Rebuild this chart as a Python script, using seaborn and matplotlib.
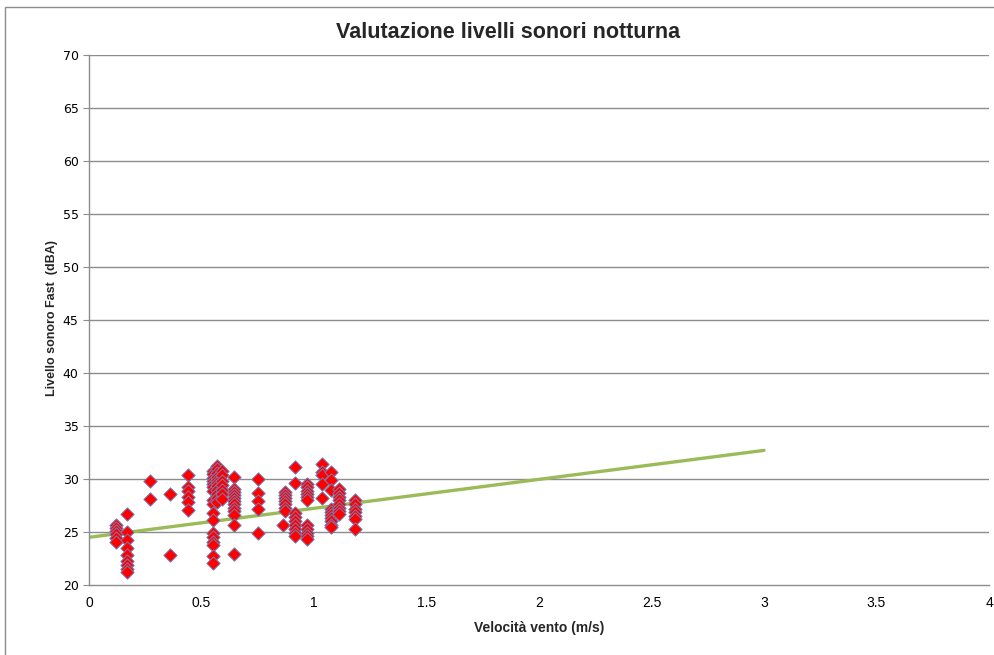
import numpy as np
import pandas as pd
import matplotlib
matplotlib.use("Agg")
import matplotlib.pyplot as plt
import seaborn as sns
from matplotlib.patches import Rectangle

sns.set_theme(style="white")
plt.rcParams['font.family'] = ['Liberation Sans', 'DejaVu Sans']

# ---- data ----
wind_groups = [0.12, 0.17, 0.27, 0.36, 0.44, 0.55, 0.57, 0.59, 0.645, 0.75,
               0.87, 0.86, 0.915, 0.967, 1.037, 1.075, 1.11, 1.183]
level_groups = [
    [25.7, 25.4, 25.1, 24.8, 24.4, 24.1],
    [26.7, 25.0, 24.2, 23.5, 22.8, 22.3, 21.9, 21.5, 21.2],
    [29.8, 28.1],
    [28.6, 22.8],
    [30.4, 29.2, 28.9, 28.3, 27.8, 27.1],
    [30.8, 30.5, 30.1, 29.8, 29.5, 29.2, 28.9, 28.0, 27.6, 26.8, 26.1,
     24.9, 24.5, 24.1, 23.8, 22.7, 22.1],
    [31.2, 30.9, 30.6, 30.2, 29.9, 29.6, 29.3, 29.0, 28.6, 28.2, 27.8],
    [30.8, 30.4, 29.8, 29.4, 29.0, 28.6, 28.1],
    [30.2, 29.1, 28.8, 28.5, 28.2, 27.9, 27.6, 27.3, 27.0, 26.6, 25.7, 22.9],
    [30.0, 28.7, 27.9, 27.2, 24.9],
    [28.8, 28.5, 28.2, 27.9, 27.6, 27.3, 27.0],
    [25.7],
    [31.1, 29.6, 26.8, 26.4, 26.0, 25.7, 25.3, 24.9, 24.6],
    [29.5, 29.2, 28.9, 28.6, 28.3, 28.0, 25.7, 25.3, 24.9, 24.6, 24.3],
    [31.4, 30.7, 30.4, 29.5, 28.2],
    [30.7, 29.9, 29.0, 27.2, 26.9, 26.6, 26.3, 26.0, 25.7, 25.5],
    [29.1, 28.7, 28.3, 28.0, 27.6, 27.3, 27.0, 26.7],
    [28.0, 27.6, 27.2, 26.9, 26.5, 26.2, 25.3],
]
trend_x = [0.0, 3.0]
trend_y = [24.5, 32.7]

title = "Valutazione livelli sonori notturna"
xlabel = "Velocità vento (m/s)"
ylabel = "Livello sonoro Fast  (dBA)"
x_ticks = [0, 0.5, 1, 1.5, 2, 2.5, 3, 3.5, 4]
x_tick_labels = ["0", "0.5", "1", "1.5", "2", "2.5", "3", "3.5", "4"]
y_ticks = [20, 25, 30, 35, 40, 45, 50, 55, 60, 65, 70]

rows = []
for w, lv in zip(wind_groups, level_groups):
    for l in lv:
        rows.append((w, l))
df = pd.DataFrame(rows, columns=["vento", "livello"])
trend = pd.DataFrame({"vento": trend_x, "livello": trend_y})

fig = plt.figure(figsize=(9.95, 6.55), dpi=100)
ax = fig.add_axes([89 / 995, 1 - 585 / 655, 900 / 995, 530 / 655])

for y in y_ticks[1:]:
    ax.axhline(y, color="#8c8c8c", lw=1.0, zorder=0)

sns.lineplot(data=trend, x="vento", y="livello", ax=ax, color="#9bbb59",
             lw=2.4, zorder=2)
sns.scatterplot(data=df, x="vento", y="livello", ax=ax, marker="D",
                color="#ff0000", edgecolor="#6f7fb8", linewidth=0.7, s=46,
                zorder=3)

ax.set_xlim(0, 4)
ax.set_ylim(20, 70)
ax.set_xticks(x_ticks)
ax.set_xticklabels(x_tick_labels)
ax.set_yticks(y_ticks)
ax.tick_params(axis="both", labelsize=10, colors="#000000", length=4,
               width=0.8, direction="out")
ax.tick_params(axis="x", pad=8, length=0)
ax.tick_params(axis="y", left=True, color="#8c8c8c")
for lab in ax.get_yticklabels():
    lab.set_family(['DejaVu Sans'])
    lab.set_fontsize(9)

for side in ["top", "right"]:
    ax.spines[side].set_visible(False)
for side in ["left", "bottom"]:
    ax.spines[side].set_color("#8c8c8c")
    ax.spines[side].set_linewidth(1.0)

ax.set_xlabel(xlabel, fontsize=10, fontweight="bold", labelpad=8)
ax.set_ylabel(ylabel, fontsize=9, fontweight="bold")
ax.yaxis.set_label_coords((58 - 89) / 900, (585 - 318) / 530)
fig.text(508 / 995, 1 - 33 / 655, title, ha="center", va="center",
         fontsize=15.5, fontweight="bold")

fig.patches.append(Rectangle((5 / 995, -0.01), 1.1, 1 - 7 / 655 + 0.01,
                             transform=fig.transFigure, fill=False,
                             edgecolor="#8c8c8c", lw=1.0))

fig.savefig("out.png", dpi=100)
